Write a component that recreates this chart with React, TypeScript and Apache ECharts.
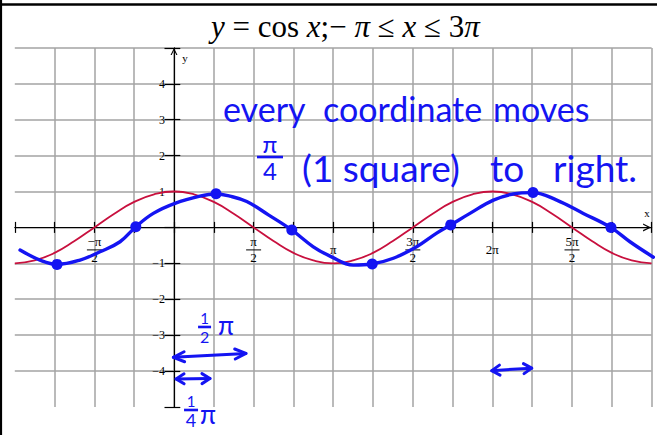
import { useEffect, useRef } from 'react';
import * as echarts from 'echarts';

// x values are in multiples of π
const RED_X = [-1, -0.875, -0.75, -0.625, -0.5, -0.375, -0.25, -0.125, 0, 0.125, 0.25, 0.375, 0.5, 0.625, 0.75, 0.875, 1, 1.125, 1.25, 1.375, 1.5, 1.625, 1.75, 1.875, 2, 2.125, 2.25, 2.375, 2.5, 2.625, 2.75, 2.875, 3];
const RED_Y = [-1, -0.92, -0.71, -0.38, 0, 0.38, 0.71, 0.92, 1, 0.92, 0.71, 0.38, 0, -0.38, -0.71, -0.92, -1, -0.92, -0.71, -0.38, 0, 0.38, 0.71, 0.92, 1, 0.92, 0.71, 0.38, 0, -0.38, -0.71, -0.92, -1];

// hand-drawn shifted curve
const BLUE_X = [-0.967, -0.842, -0.733, -0.59, -0.465, -0.339, -0.239, -0.13, 0.006, 0.163, 0.264, 0.352, 0.457, 0.593, 0.739, 0.875, 0.98, 1.126, 1.242, 1.378, 1.524, 1.65, 1.738, 1.859, 2.006, 2.13, 2.253, 2.404, 2.571, 2.743, 2.864, 3.011];
const BLUE_Y = [-0.63, -0.91, -1.03, -0.91, -0.68, -0.4, 0.02, 0.39, 0.67, 0.87, 0.93, 0.87, 0.72, 0.35, -0.07, -0.54, -0.8, -1.05, -1.02, -0.86, -0.54, -0.16, 0.07, 0.39, 0.76, 0.93, 0.97, 0.76, 0.39, 0, -0.4, -0.83];

// marked points of the shifted curve
const DOT_X = [-0.735, -0.24, 0.264, 0.74, 1.245, 1.738, 2.255, 2.745];
const DOT_Y = [-1.03, 0.02, 0.94, -0.07, -1.02, 0.07, 0.97, 0];

// x tick labels (value in multiples of π)
const X_LABEL_AT = [-0.5, 0.5, 1, 1.5, 2, 2.5];
const X_LABEL_NUM = ['−π', 'π', 'π', '3π', '2π', '5π'];
const X_LABEL_DEN = ['2', '2', '', '2', '', '2'];
const Y_LABELS = [-4, -3, -2, -1, 1, 2, 3, 4];

const X_MIN = -1;
const X_MAX = 3;
const Y_MIN = -5;
const Y_MAX = 5;

const SERIF = 'Liberation Serif';
const HAND_FONT = 'Lato';
const BLUE = '#1414f2';
const RED = '#c8103e';
const GRID_COLOR = '#a3a3a3';

// plot area
const W = 658;
const H = 435;
const G_LEFT = 14.8;
const G_RIGHT = 6.4;
const G_TOP = 47.9;
const G_BOTTOM = 28.1;
const G_W = W - G_LEFT - G_RIGHT;
const G_H = H - G_TOP - G_BOTTOM;
// distance of the zero lines from the plot edges
const ZERO_FROM_LEFT = (G_W * (0 - X_MIN)) / (X_MAX - X_MIN);
const ZERO_FROM_RIGHT = G_W - ZERO_FROM_LEFT;
const ZERO_FROM_TOP = (G_H * (Y_MAX - 0)) / (Y_MAX - Y_MIN);
const ZERO_FROM_BOTTOM = G_H - ZERO_FROM_TOP;

// open chevron, tip pointing up (rotated by the axis)
const ARROW = 'path://M0,10 L5,0 L10,10 L8.3,10 L5,3.4 L1.7,10 Z';

// handwritten notes, anchored in data coordinates
type Note = { text: string; x: number; y: number; size: number; center?: boolean };
const NOTES: Note[] = [
  { text: 'every', x: 0.308, y: 3.3, size: 34 },
  { text: 'coordinate', x: 0.936, y: 3.3, size: 34 },
  { text: 'moves', x: 2.004, y: 3.3, size: 34 },
  { text: '(1 square)', x: 0.804, y: 1.68, size: 37 },
  { text: 'to', x: 1.985, y: 1.68, size: 37 },
  { text: 'right.', x: 2.381, y: 1.68, size: 37 },
  { text: 'π', x: 0.327, y: -2.73, size: 26, center: true },
  { text: 'π', x: 0.214, y: -5.2, size: 26, center: true },
];
// handwritten fractions, anchored at the block centre
type Frac = { num: string; den: string; x: number; y: number; nSize: number; dSize: number; bar: number };
const FRACS: Frac[] = [
  { num: 'π', den: '4', x: 0.603, y: 1.96, nSize: 24, dSize: 24, bar: 26 },
  { num: '1', den: '2', x: 0.192, y: -2.788, nSize: 15, dSize: 16, bar: 13 },
  { num: '1', den: '4', x: 0.107, y: -5.128, nSize: 15, dSize: 18, bar: 14 },
];
const ARROWS = [
  { from: [-0.004, -3.62], to: [0.452, -3.51], head: 11 },
  { from: [0.013, -4.22], to: [0.226, -4.21], head: 8 },
  { from: [1.996, -3.99], to: [2.247, -3.92], head: 8 },
];

function xLabel(v: number): string {
  const i = X_LABEL_AT.findIndex((a) => Math.abs(a - v) < 1e-6);
  if (i < 0) return '';
  if (!X_LABEL_DEN[i]) return `{s|${X_LABEL_NUM[i]}}`;
  return `{n|${X_LABEL_NUM[i]}}\n{b| }\n{d|${X_LABEL_DEN[i]}}`;
}

function yLabel(v: number): string {
  const hit = Y_LABELS.find((l) => Math.abs(l - v) < 1e-6);
  if (hit === undefined) return '';
  return hit < 0 ? '−' + Math.abs(hit) : String(hit);
}

function buildOption(): echarts.EChartsOption {
  const tickStyle = { color: '#000', width: 1.2 };
  return {
    animation: false,
    backgroundColor: '#fff',
    title: {
      text: '{i|y} = cos {i|x};− {i|π} ≤ {i|x} ≤ 3{i|π}',
      left: 206,
      top: 6,
      textStyle: {
        fontFamily: SERIF,
        fontSize: 31,
        fontWeight: 'normal',
        color: '#000',
        rich: {
          i: { fontFamily: SERIF, fontSize: 31, fontStyle: 'italic', color: '#000' },
        },
      },
    },
    grid: {
      left: G_LEFT,
      right: G_RIGHT,
      top: G_TOP,
      bottom: G_BOTTOM,
      containLabel: false,
      outerBoundsMode: 'none',
    } as any,
    xAxis: [
      {
        type: 'value',
        min: X_MIN,
        max: X_MAX,
        interval: 0.25,
        position: 'bottom',
        offset: -ZERO_FROM_BOTTOM,
        axisLine: {
          onZero: false,
          lineStyle: { color: '#000', width: 1.2 },
          symbol: ['none', ARROW],
          symbolSize: [8, 9],
          symbolOffset: [0, -4.5],
        },
        axisTick: { show: true, length: 5.5, lineStyle: tickStyle },
        axisLabel: {
          formatter: xLabel,
          margin: 8,
          color: '#000',
          fontFamily: SERIF,
          fontSize: 13,
          rich: {
            n: { fontFamily: SERIF, fontSize: 13, lineHeight: 13, color: '#000' },
            b: { width: 15, height: 1, lineHeight: 3, fontSize: 1, backgroundColor: '#000' },
            d: { fontFamily: SERIF, fontSize: 13, lineHeight: 13, color: '#000' },
            s: { fontFamily: SERIF, fontSize: 13, lineHeight: 29, color: '#000' },
          },
        },
        splitLine: { show: true, showMinLine: false, lineStyle: { color: GRID_COLOR, width: 1.5 } },
      },
      {
        type: 'value',
        min: X_MIN,
        max: X_MAX,
        interval: 0.25,
        position: 'top',
        offset: -ZERO_FROM_TOP,
        axisLine: { show: false, onZero: false },
        axisTick: { show: true, length: 5.5, lineStyle: tickStyle },
        axisLabel: { show: false },
        splitLine: { show: false },
      },
    ],
    yAxis: [
      {
        type: 'value',
        min: Y_MIN,
        max: Y_MAX,
        interval: 1,
        position: 'left',
        offset: -ZERO_FROM_LEFT,
        axisLine: {
          onZero: false,
          lineStyle: { color: '#000', width: 1.2 },
          symbol: ['none', ARROW],
          symbolSize: [7, 7],
          symbolOffset: [0, -3.5],
        },
        axisTick: { show: true, length: 9.5, lineStyle: tickStyle },
        axisLabel: { formatter: yLabel, margin: 9, color: '#000', fontFamily: SERIF, fontSize: 12 },
        splitLine: { show: true, showMinLine: false, lineStyle: { color: GRID_COLOR, width: 1.5 } },
      },
      {
        type: 'value',
        min: Y_MIN,
        max: Y_MAX,
        interval: 1,
        position: 'right',
        offset: -ZERO_FROM_RIGHT,
        axisLine: { show: false, onZero: false },
        axisTick: { show: true, length: 6.3, lineStyle: tickStyle },
        axisLabel: { show: false },
        splitLine: { show: false },
      },
    ],
    series: [
      {
        name: 'y = cos x',
        type: 'line',
        xAxisIndex: 0,
        yAxisIndex: 0,
        data: RED_X.map((x, i) => [x, RED_Y[i]]),
        smooth: true,
        showSymbol: false,
        lineStyle: { color: RED, width: 1.8 },
        z: 3,
      },
      {
        name: 'shifted',
        type: 'line',
        xAxisIndex: 0,
        yAxisIndex: 0,
        data: BLUE_X.map((x, i) => [x, BLUE_Y[i]]),
        smooth: 0.4,
        showSymbol: false,
        clip: false,
        lineStyle: { color: BLUE, width: 3.4, cap: 'round', join: 'round' },
        z: 4,
      },
      {
        name: 'points',
        type: 'scatter',
        xAxisIndex: 0,
        yAxisIndex: 0,
        data: DOT_X.map((x, i) => [x, DOT_Y[i]]),
        symbolSize: 11,
        itemStyle: { color: BLUE, opacity: 1 },
        z: 5,
      },
    ],
  };
}

type Px = (x: number, y: number) => number[];

function arrowShapes(px: Px, a: { from: number[]; to: number[]; head: number }) {
  const p0 = px(a.from[0], a.from[1]);
  const p1 = px(a.to[0], a.to[1]);
  const dx = p1[0] - p0[0];
  const dy = p1[1] - p0[1];
  const len = Math.hypot(dx, dy);
  const ux = dx / len;
  const uy = dy / len;
  const nx = -uy;
  const ny = ux;
  const w = 5;
  const style = { stroke: BLUE, lineWidth: 3, fill: null, lineCap: 'round', lineJoin: 'round' };
  const headAt = (tip: number[], dir: number) => [
    [tip[0] - dir * ux * a.head + nx * w, tip[1] - dir * uy * a.head + ny * w],
    tip,
    [tip[0] - dir * ux * a.head - nx * w, tip[1] - dir * uy * a.head - ny * w],
  ];
  return [
    { type: 'polyline', z: 20, shape: { points: [p0, p1] }, style },
    { type: 'polyline', z: 20, shape: { points: headAt(p1, 1) }, style },
    { type: 'polyline', z: 20, shape: { points: headAt(p0, -1) }, style },
  ];
}

function buildGraphics(px: Px): any[] {
  const out: any[] = [];
  // page frame
  out.push({ type: 'line', z: 30, shape: { x1: 0, y1: 4.5, x2: 657, y2: 4.5 }, style: { stroke: '#000', lineWidth: 2.6 } });
  out.push({ type: 'line', z: 30, shape: { x1: 1, y1: 0, x2: 1, y2: H }, style: { stroke: '#000', lineWidth: 2.2 } });

  // axis names
  const xn = px(2.971, 0.4);
  const yn = px(0.069, 4.72);
  for (const [p, t] of [[xn, 'x'], [yn, 'y']] as [number[], string][]) {
    out.push({
      type: 'text', z: 20, x: p[0], y: p[1],
      style: { text: t, fill: '#000', fontFamily: SERIF, fontSize: 11, textAlign: 'center', align: 'center', textVerticalAlign: 'middle', verticalAlign: 'middle' },
    });
  }

  for (const n of NOTES) {
    const p = px(n.x, n.y);
    const al = n.center ? 'center' : 'left';
    out.push({
      type: 'text', z: 20, x: p[0], y: p[1],
      style: {
        text: n.text, fill: BLUE, fontFamily: HAND_FONT, fontSize: n.size,
        textAlign: al, align: al, textVerticalAlign: 'middle', verticalAlign: 'middle',
      },
    });
  }
  for (const f of FRACS) {
    const p = px(f.x, f.y);
    out.push({
      type: 'text', z: 20, x: p[0], y: p[1],
      style: {
        text: `{n|${f.num}}\n{b| }\n{d|${f.den}}`,
        fill: BLUE, fontFamily: HAND_FONT,
        textAlign: 'center', align: 'center', textVerticalAlign: 'middle', verticalAlign: 'middle',
        rich: {
          n: { fontFamily: HAND_FONT, fontSize: f.nSize, lineHeight: f.nSize, fill: BLUE, color: BLUE },
          b: { width: f.bar, height: 2.6, lineHeight: 3, fontSize: 1, backgroundColor: BLUE },
          d: { fontFamily: HAND_FONT, fontSize: f.dSize, lineHeight: f.dSize, fill: BLUE, color: BLUE },
        },
      },
    });
  }
  for (const a of ARROWS) out.push(...arrowShapes(px, a));
  return out;
}

export default function App() {
  const ref = useRef<HTMLDivElement>(null);
  useEffect(() => {
    if (!ref.current) return;
    const chart = echarts.init(ref.current, undefined, { renderer: 'svg' });
    chart.setOption(buildOption());
    const px: Px = (x, y) => chart.convertToPixel({ xAxisIndex: 0, yAxisIndex: 0 } as any, [x, y]) as number[];
    chart.setOption({ graphic: buildGraphics(px) });
    return () => chart.dispose();
  }, []);
  return (
    <div
      ref={ref}
      style={{ position: 'absolute', left: 0, top: 0, width: W, height: H, background: '#fff' }}
    />
  );
}
